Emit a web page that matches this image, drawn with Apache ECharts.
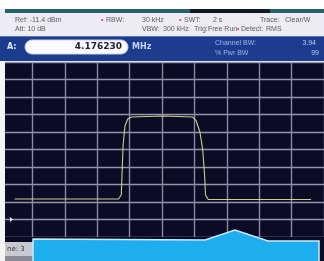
<!DOCTYPE html>
<html><head><meta charset="utf-8">
<script src="https://cdn.jsdelivr.net/npm/echarts@6/dist/echarts.min.js"></script>
<style>html,body{margin:0;padding:0;background:#fff}#c{width:324px;height:261px}</style>
</head><body><div id="c"></div>
<script>
// Reference level (dBm) and trace samples: x in screen divisions, y in dBm
const refLevelDbm = -11.4;
const traceX = [0.45, 2.0, 3.657, 3.743, 3.771, 3.8, 3.857, 3.943, 4.057, 5.029, 5.943, 6.057, 6.171, 6.257, 6.314, 6.343, 6.429, 9.6];
const traceDbm = [-89.7, -89.7, -89.7, -87.4, -73.1, -58.8, -48.0, -44.0, -42.8, -42.3, -42.8, -45.1, -51.4, -61.7, -76.0, -87.4, -90.0, -90.0];
const headerLine1 = ["Ref: -11.4 dBm", "RBW:", "30 kHz", "SWT:", "2 s", "Trace:", "Clear/W"];
const headerLine2 = ["Att: 10 dB", "VBW:", "300 kHz", "Trig:", "Free Run", "Detect:", "RMS"];
const centerFreq = "4.176230";
const freqUnit = "MHz";
const chanLabels = ["Channel BW:", "% Pwr BW"];
const chanValues = ["3.94", "99"];

const chart = echarts.init(document.getElementById('c'));
const data = traceX.map((x, i) => [x, traceDbm[i] - refLevelDbm]);
const F = 'Liberation Sans';
const D = 'DejaVu Sans';
const txtC = '#5a5a6c';
function t(x, y, s, o) {
  return Object.assign({type:'text', x:x, y:y, z:100, style:Object.assign({text:s, fill:txtC, font:'7px "'+F+'"', textVerticalAlign:'middle'}, o||{})});
}
chart.setOption({
  animation:false,
  backgroundColor:'#ffffff',
  grid:{left:-11, right:-15, top:62, height:175, show:true, backgroundColor:'#0b0b26', borderWidth:0},
  xAxis:{type:'value', min:0, max:10, interval:1, axisLabel:{show:false}, axisTick:{show:false}, axisLine:{show:false},
    splitLine:{show:true, lineStyle:{color:'#8a8aa6', width:1.4}}},
  yAxis:{type:'value', min:-100, max:0, interval:10, axisLabel:{show:false}, axisTick:{show:false}, axisLine:{show:false},
    splitLine:{show:true, lineStyle:{color:'#9494ae', width:1.4}}},
  series:[{type:'line', data:data, symbol:'none', smooth:false, lineStyle:{color:'#cfcf86', width:1.1}, z:5}],
  graphic:[
    // header area
    {type:'rect', z:90, shape:{x:0,y:0,width:324,height:36}, style:{fill:'#ececf2'}},
    {type:'rect', z:90, shape:{x:0,y:0,width:324,height:9}, style:{fill:'#ffffff'}},
    {type:'rect', z:91, shape:{x:5,y:9,width:319,height:4}, style:{fill:'#25606c'}},
    {type:'rect', z:91, shape:{x:190,y:9,width:80,height:4}, style:{fill:'#101828'}},
    t(15,20,headerLine1[0]), t(101,20,'•',{fill:'#d04050'}), t(106,20,headerLine1[1]), t(142,20,headerLine1[2]),
    t(179,20,'•',{fill:'#d04050'}), t(184,20,headerLine1[3]), t(213,20,headerLine1[4]), t(260,20,headerLine1[5]), t(285,20,headerLine1[6]),
    t(15,29,headerLine2[0]), t(142,29,headerLine2[1]), t(163,29,headerLine2[2]), t(194,29,headerLine2[3]),
    t(208,29,headerLine2[4]), t(237,29,'•',{fill:'#d04050'}), t(241,29,headerLine2[5]), t(266,29,headerLine2[6]),
    // blue bar
    {type:'rect', z:90, shape:{x:0,y:36,width:324,height:25}, style:{fill:'#1c3c8e'}},
    {type:'rect', z:91, shape:{x:0,y:36,width:324,height:1}, style:{fill:'#5a74b8'}},
    t(7,47,'A:',{fill:'#dfe6ff', font:'bold 8px "'+D+'"'}),
    {type:'rect', z:92, shape:{x:25,y:40,width:103,height:14,r:7}, style:{fill:'#fbfbff', stroke:'#c8d0e8', lineWidth:1}},
    t(122,47,centerFreq,{fill:'#222230', font:'bold 9px "'+D+'"', textAlign:'right'}),
    t(132,47,freqUnit,{fill:'#c8d4ff', font:'bold 8px "'+D+'"'}),
    t(215,43,chanLabels[0],{fill:'#9fb4f0'}), t(215,53,chanLabels[1],{fill:'#9fb4f0'}),
    t(316,43,chanValues[0],{fill:'#b8c8ff', textAlign:'right'}), t(319,53,chanValues[1],{fill:'#b8c8ff', textAlign:'right'}),
    // left white border
    {type:'rect', z:90, shape:{x:0,y:61,width:5,height:200}, style:{fill:'#f4f4f6'}},
    // bottom area
    {type:'rect', z:90, shape:{x:5,y:237,width:319,height:24}, style:{fill:'#0b0b26'}},
    {type:'rect', z:91, shape:{x:5,y:242,width:40,height:14}, style:{fill:'#c9c9d0'}},
    {type:'rect', z:91, shape:{x:5,y:256,width:40,height:5}, style:{fill:'#8a8a94'}},
    t(7,249,'ne: 3',{fill:'#303040', font:'7px "'+D+'"'}),
    {type:'polygon', z:95, shape:{points:[[10,217],[13,219.5],[10,222]]}, style:{fill:'#e8e8f0'}},
    {type:'polygon', z:96, shape:{points:[[33,262],[33,239],[205,240],[235,230],[268,241],[319,241],[319,262]]},
      style:{fill:'#1eaef0', stroke:'#c8ecff', lineWidth:1.5}}
  ]
});
</script></body></html>
